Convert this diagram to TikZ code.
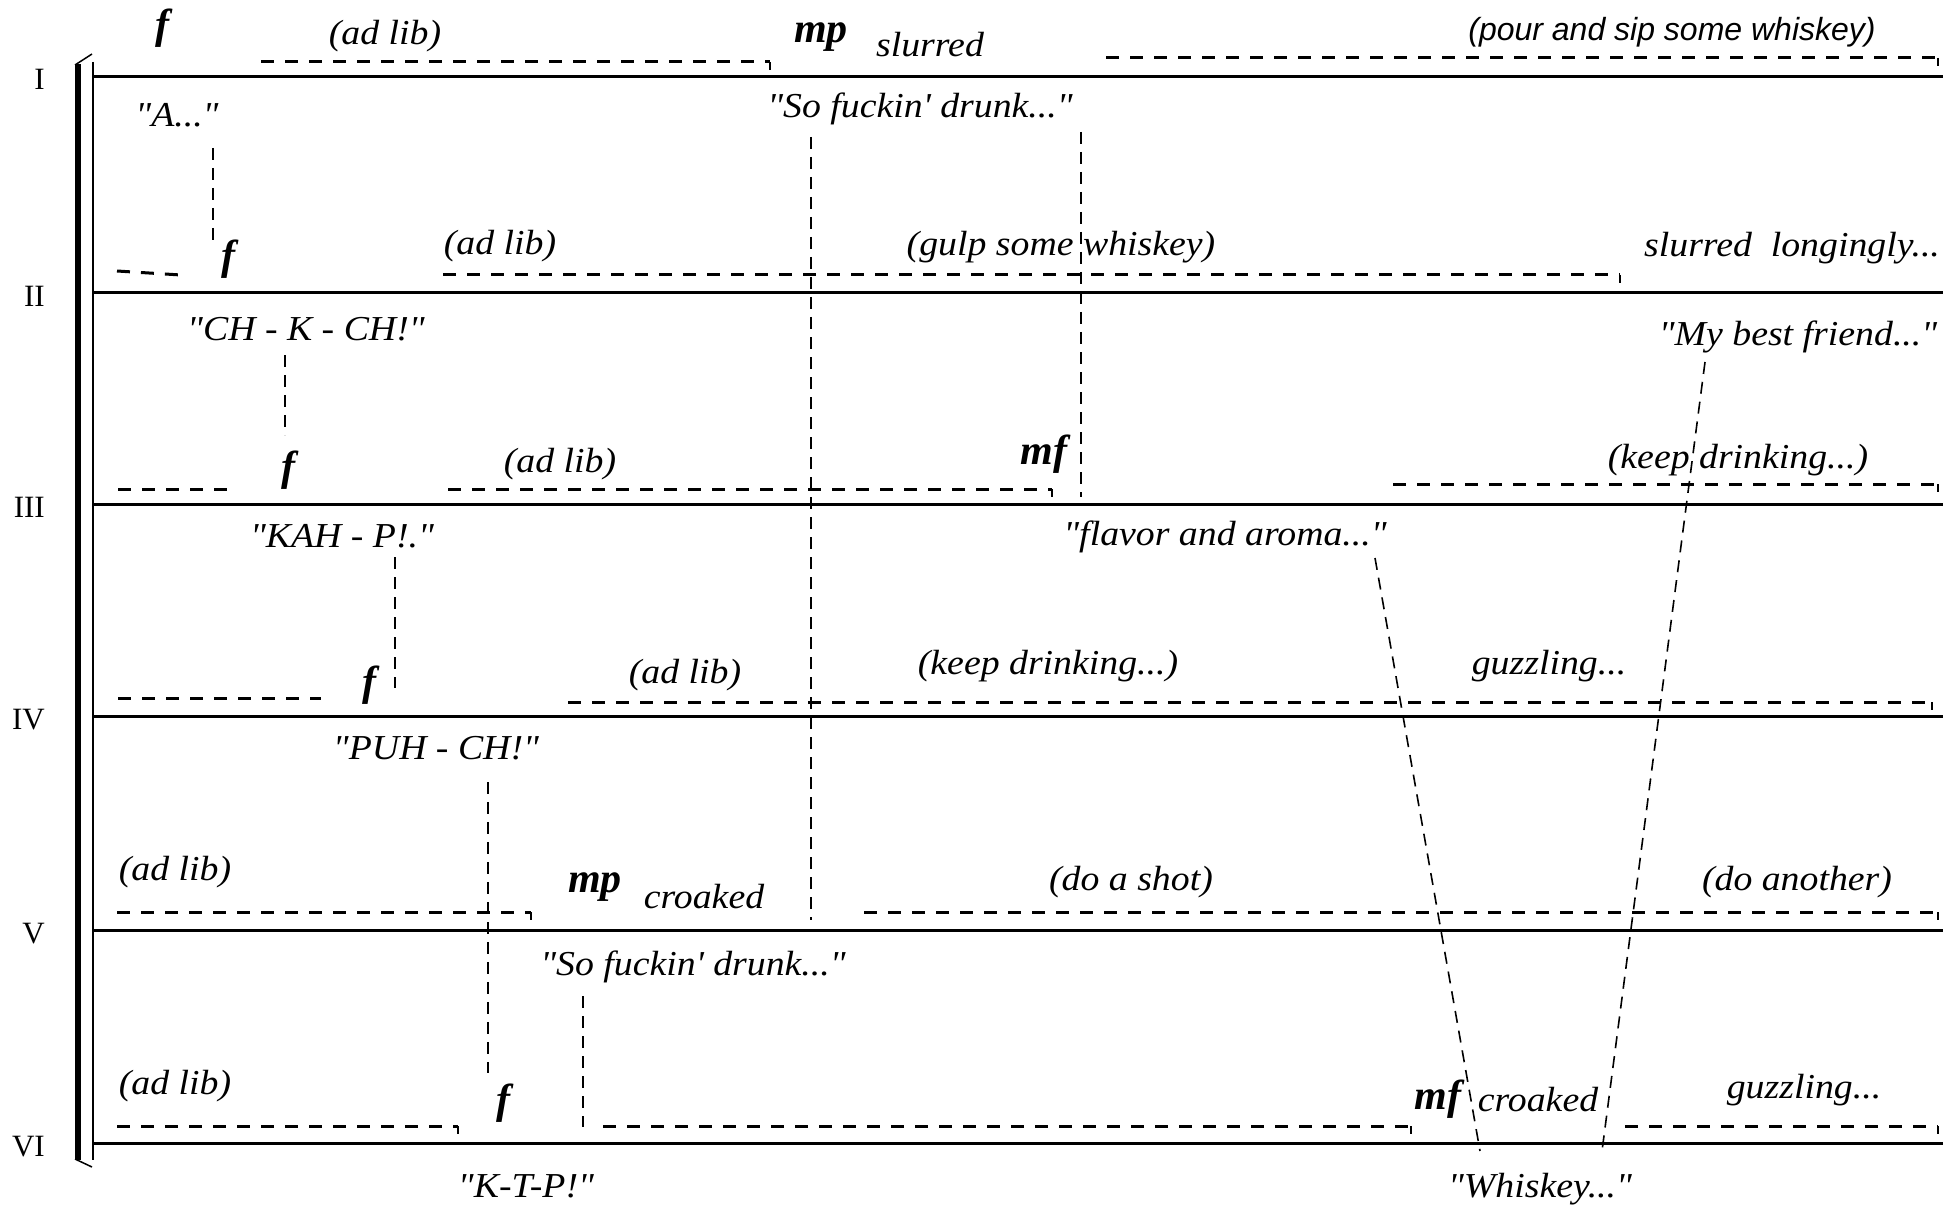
\documentclass[tikz,border=0pt]{standalone}
\usepackage{fontspec}
\setmainfont{Liberation Serif}
\newfontfamily\tx{Liberation Serif}[Ligatures=TeXOff,FakeStretch=1.08]
\newfontfamily\dynf{Liberation Serif}[Ligatures=TeXOff]
\newfontfamily\sx{Liberation Sans}[Ligatures=TeXOff]
\tikzset{
  txt/.style={font=\tx\itshape\fontsize{35}{40}\selectfont, inner sep=0pt, anchor=base},
  sanstxt/.style={font=\sx\itshape\fontsize{32}{36}\selectfont, inner sep=0pt, anchor=base},
  dyn/.style={font=\dynf\bfseries\itshape\fontsize{42}{48}\selectfont, inner sep=0pt, anchor=base},
  num/.style={font=\fontsize{31}{34}\selectfont, inner sep=0pt, anchor=base east},
  staffline/.style={line width=3pt},
  cue/.style={line width=3pt, dash pattern=on 13pt off 11pt},
  cuetick/.style={line width=2.2pt},
  link/.style={line width=1.6pt, dash pattern=on 12pt off 8pt}
}
\begin{document}
\begin{tikzpicture}[x=1pt,y=-1pt]
\useasboundingbox (0,0) rectangle (1957,1206);
% staff lines and numerals
\foreach \yy/\nn in {77/I,293/II,504/III,716/IV,930/V,1143/VI}{
  \draw[staffline] (92,\yy) -- (1943,\yy);
  \node[num] (n\nn) at (45,\yy+13) {\nn};
}
% bracket
\fill (75,64) rectangle (81,1160);
\draw[line width=1.5pt] (75,65) -- (92,54);
\draw[line width=1.5pt] (75,1159) -- (92,1167);
\draw[line width=2pt] (92.5,62) -- (92.5,1160);

% ---------- Row I ----------
\node[dyn] (f1) at (162,39) {f};
\node[txt] (adlib1) at (385,45) {(ad lib)};
\coordinate (d1a) at (261,62); \coordinate (d1b) at (770,62);
\draw[cue] (d1a) -- (d1b); \draw[cuetick] (d1b) -- ++(0,8);
\node[dyn] (mp1) at (821,43) {mp};
\node[txt] (slurred1) at (930,57) {slurred};
\coordinate (d2a) at (1106,58); \coordinate (d2b) at (1938,58);
\draw[cue] (d2a) -- (d2b); \draw[cuetick] (d2b) -- ++(0,8);
\node[sanstxt] (pour) at (1672,41) {(pour and sip some whiskey)};

% ---------- Row II ----------
\node[txt] (A) at (177,127) {"A..."};
\coordinate (cA1) at (213,148); \coordinate (cA2) at (213,246);
\draw[link] (cA1) -- (cA2);
\node[dyn] (f2) at (228,270) {f};
\coordinate (s2a) at (117,271); \coordinate (s2b) at (181,275);
\draw[cue] (s2a) -- (s2b);
\node[txt] (adlib2) at (500,255) {(ad lib)};
\coordinate (d3a) at (443,275); \coordinate (d3b) at (1620,275);
\draw[cue] (d3a) -- (d3b); \draw[cuetick] (d3b) -- ++(0,8);
\node[txt] (gulp) at (1061,256) {(gulp some whiskey)};
\node[txt] (longing) at (1792,257) {slurred\ \ longingly...};
\node[txt] (sofd1) at (920,118) {"So fuckin' drunk..."};
\coordinate (cS1) at (811,137); \coordinate (cS2) at (811,920);
\draw[link] (cS1) -- (cS2);
\coordinate (cT1) at (1081,132); \coordinate (cT2) at (1081,497);
\draw[link] (cT1) -- (cT2);

% ---------- Row III ----------
\node[txt] (chk) at (306,341) {"CH - K - CH!"};
\coordinate (cC1) at (285,355); \coordinate (cC2) at (285,435);
\draw[link] (cC1) -- (cC2);
\node[dyn] (f3) at (288,480) {f};
\coordinate (s3a) at (118,489); \coordinate (s3b) at (235,489);
\draw[cue] (s3a) -- (s3b);
\node[txt] (adlib3) at (560,472) {(ad lib)};
\coordinate (d4a) at (448,489); \coordinate (d4b) at (1052,489);
\draw[cue] (d4a) -- (d4b); \draw[cuetick] (d4b) -- ++(0,8);
\node[dyn] (mf3) at (1044,464) {mf};
\node[txt] (mybest) at (1798,345) {"My best friend..."};
\coordinate (cM1) at (1705,362); \coordinate (cM2) at (1602,1151);
\draw[link] (cM1) -- (cM2);
\node[txt] (keep1) at (1738,468) {(keep drinking...)};
\coordinate (d5a) at (1393,484); \coordinate (d5b) at (1938,484);
\draw[cue] (d5a) -- (d5b); \draw[cuetick] (d5b) -- ++(0,8);

% ---------- Row IV ----------
\node[txt] (kah) at (342,547) {"KAH - P!."};
\coordinate (cK1) at (395,557); \coordinate (cK2) at (395,688);
\draw[link] (cK1) -- (cK2);
\node[dyn] (f4) at (369,695) {f};
\coordinate (s4a) at (118,698); \coordinate (s4b) at (321,698);
\draw[cue] (s4a) -- (s4b);
\node[txt] (adlib4) at (685,683) {(ad lib)};
\coordinate (d6a) at (568,702); \coordinate (d6b) at (1932,702);
\draw[cue] (d6a) -- (d6b); \draw[cuetick] (d6b) -- ++(0,8);
\node[txt] (keep2) at (1048,674) {(keep drinking...)};
\node[txt] (guzz1) at (1549,674) {guzzling...};
\node[txt] (flavor) at (1225,545) {"flavor and aroma..."};
\coordinate (cF1) at (1375,558); \coordinate (cF2) at (1480,1151);
\draw[link] (cF1) -- (cF2);

% ---------- Row V ----------
\node[txt] (puh) at (436,759) {"PUH - CH!"};
\coordinate (cP1) at (488,782); \coordinate (cP2) at (488,1073);
\draw[link] (cP1) -- (cP2);
\node[txt] (adlib5) at (175,880) {(ad lib)};
\coordinate (d7a) at (117,912); \coordinate (d7b) at (531,912);
\draw[cue] (d7a) -- (d7b); \draw[cuetick] (d7b) -- ++(0,8);
\node[dyn] (mp5) at (595,892) {mp};
\node[txt] (croaked5) at (704,908) {croaked};
\coordinate (d8a) at (864,912); \coordinate (d8b) at (1938,912);
\draw[cue] (d8a) -- (d8b); \draw[cuetick] (d8b) -- ++(0,8);
\node[txt] (shot) at (1131,890) {(do a shot)};
\node[txt] (another) at (1797,890) {(do another)};

% ---------- Row VI ----------
\node[txt] (sofd2) at (693,975) {"So fuckin' drunk..."};
\coordinate (cD1) at (583,996); \coordinate (cD2) at (583,1127);
\draw[link] (cD1) -- (cD2);
\node[txt] (adlib6) at (175,1094) {(ad lib)};
\coordinate (d9a) at (117,1126); \coordinate (d9b) at (458,1126);
\draw[cue] (d9a) -- (d9b); \draw[cuetick] (d9b) -- ++(0,8);
\node[dyn] (f6) at (503,1113) {f};
\coordinate (d10a) at (603,1126); \coordinate (d10b) at (1411,1126);
\draw[cue] (d10a) -- (d10b); \draw[cuetick] (d10b) -- ++(0,8);
\node[dyn] (mf6) at (1438,1109) {mf};
\node[txt] (croaked6) at (1538,1111) {croaked};
\coordinate (d11a) at (1625,1126); \coordinate (d11b) at (1938,1126);
\draw[cue] (d11a) -- (d11b); \draw[cuetick] (d11b) -- ++(0,8);
\node[txt] (guzz2) at (1804,1098) {guzzling...};
\node[txt] (ktp) at (526,1197) {"K-T-P!"};
\node[txt] (whiskey) at (1540,1197) {"Whiskey..."};
\end{tikzpicture}
\end{document}
